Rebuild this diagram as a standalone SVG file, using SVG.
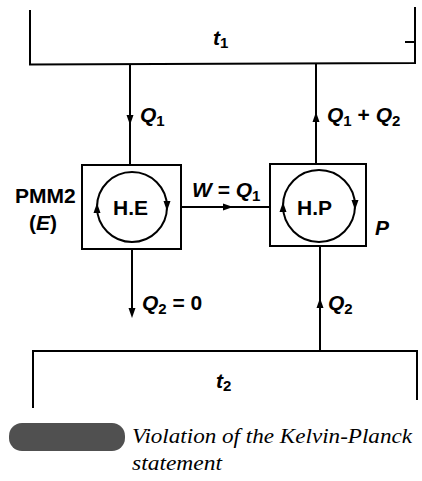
<svg xmlns="http://www.w3.org/2000/svg" xmlns:xlink="http://www.w3.org/1999/xlink" width="422" height="481" viewBox="0 0 422 481">
<style>
.ln{stroke:#000;stroke-width:2;fill:none}
.bx{stroke:#000;stroke-width:2;fill:#fff}
.cy{stroke:#000;stroke-width:2;fill:none}
.lb{font-family:"Liberation Sans",Arial,sans-serif;font-size:21px;font-weight:bold;fill:#000}
.it{font-style:italic}
.sb{font-size:15px}
.cap{font-family:"Liberation Serif","Times New Roman",serif;font-style:italic;font-size:21px;fill:#000}
</style>
<defs>
<path id="ah" d="M0,0 L-10,-3.5 L-10,3.5 Z" fill="#000"/>
</defs>
<g id="reservoir-t1">
<polyline class="ln" points="30,10 30,64.5 415,63 415,7"/>
<line class="ln" x1="405" y1="42" x2="415" y2="42"/>
<text class="lb it" x="213" y="45">t<tspan class="sb" dy="3" style="font-style:normal">1</tspan></text>
</g>
<g id="reservoir-t2">
<polyline class="ln" points="33,408 33,351 417,351 417,400"/>
<text class="lb it" x="216" y="388">t<tspan class="sb" dy="3" style="font-style:normal">2</tspan></text>
</g>
<g id="engine-HE">
<rect class="bx" x="82" y="165" width="99" height="84"/>
<circle class="cy" cx="132" cy="207" r="35"/>
<use xlink:href="#ah" transform="translate(97,203) rotate(-90)"/>
<use xlink:href="#ah" transform="translate(167,211) rotate(90)"/>
<text class="lb" x="113" y="215">H.E</text>
<text class="lb" x="15" y="203">PMM2</text>
<text class="lb" x="29" y="230">(<tspan class="it">E</tspan>)</text>
</g>
<g id="pump-HP">
<rect class="bx" x="270" y="164" width="96" height="82"/>
<circle class="cy" cx="319" cy="206" r="36"/>
<use xlink:href="#ah" transform="translate(283,202) rotate(-90)"/>
<use xlink:href="#ah" transform="translate(355,210) rotate(90)"/>
<text class="lb" x="297" y="215">H.P</text>
<text class="lb it" x="375" y="235">P</text>
</g>
<g id="connectors">
<line class="ln" x1="130" y1="64" x2="130" y2="165"/>
<use xlink:href="#ah" transform="translate(130,125) rotate(90)"/>
<line class="ln" x1="316" y1="63" x2="316" y2="164"/>
<use xlink:href="#ah" transform="translate(316,112) rotate(-90)"/>
<line class="ln" x1="181" y1="207" x2="270" y2="207"/>
<use xlink:href="#ah" transform="translate(233,207)"/>
<line class="ln" x1="132" y1="249" x2="132" y2="312"/>
<use xlink:href="#ah" transform="translate(132,318) rotate(90)"/>
<line class="ln" x1="320" y1="246" x2="320" y2="351"/>
<use xlink:href="#ah" transform="translate(320,298) rotate(-90)"/>
<text class="lb" x="140" y="122"><tspan class="it">Q</tspan><tspan class="sb" dy="4">1</tspan></text>
<text class="lb" x="327" y="122"><tspan class="it">Q</tspan><tspan class="sb" dy="4">1</tspan><tspan dy="-4"> + </tspan><tspan class="it">Q</tspan><tspan class="sb" dy="4">2</tspan></text>
<text class="lb" x="192" y="197"><tspan class="it">W</tspan> = <tspan class="it">Q</tspan><tspan class="sb" dy="4">1</tspan></text>
<text class="lb" x="142" y="310"><tspan class="it">Q</tspan><tspan class="sb" dy="4">2</tspan><tspan dy="-4"> = 0</tspan></text>
<text class="lb" x="328" y="310"><tspan class="it">Q</tspan><tspan class="sb" dy="4">2</tspan></text>
</g>
<g id="caption">
<rect x="9" y="423" width="116" height="28" rx="13" fill="#505050"/>
<text class="cap" x="132" y="443" textLength="280" lengthAdjust="spacingAndGlyphs">Violation of the Kelvin-Planck</text>
<text class="cap" x="132" y="470" textLength="90" lengthAdjust="spacingAndGlyphs">statement</text>
</g>
</svg>
